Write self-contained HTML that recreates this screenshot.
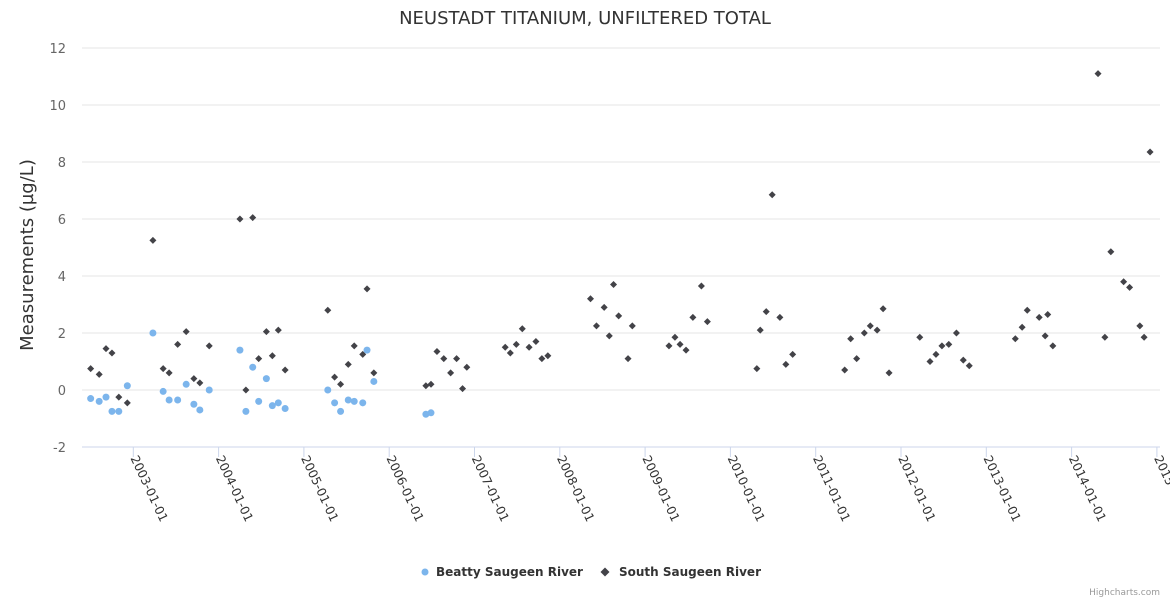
<!DOCTYPE html>
<html><head><meta charset="utf-8"><style>
body{margin:0;background:#fff;font-family:"DejaVu Sans","Liberation Sans",sans-serif;}
svg{display:block}
</style></head><body>
<svg id="chart" width="1170" height="600">
<text x="585" y="24" text-anchor="middle" font-size="18" fill="#333">NEUSTADT TITANIUM, UNFILTERED TOTAL</text>
<text transform="translate(33,255) rotate(-90)" text-anchor="middle" font-size="18" fill="#333">Measurements (µg/L)</text>
<g id="grid"></g><g id="xaxis"></g><g id="marks"></g>
<g>
<g><circle cx="425" cy="572" r="3.5" fill="#7cb5ec"/><text x="436" y="576" font-size="12" font-weight="bold" fill="#333">Beatty Saugeen River</text></g>
<g><path d="M605,567.5 L609.5,572 L605,576.5 L600.5,572Z" fill="#434348"/><text x="619" y="576" font-size="12" font-weight="bold" fill="#333">South Saugeen River</text></g>
</g>
<text x="1160" y="595" text-anchor="end" font-size="9" fill="#999">Highcharts.com</text>
</svg>
<script>
const yTicks=[-2,0,2,4,6,8,10,12];
const xTickLabels=["2003-01-01","2004-01-01","2005-01-01","2006-01-01","2007-01-01","2008-01-01","2009-01-01","2010-01-01","2011-01-01","2012-01-01","2013-01-01","2014-01-01","2015-01-01"];
const beattyX=[-0.50,-0.40,-0.32,-0.25,-0.17,-0.07,0.23,0.35,0.42,0.52,0.62,0.71,0.78,0.89,1.25,1.32,1.40,1.47,1.56,1.63,1.70,1.78,2.28,2.36,2.43,2.52,2.59,2.69,2.74,2.82,3.43,3.49];
const beattyY=[-0.3,-0.4,-0.25,-0.75,-0.75,0.15,2.0,-0.05,-0.35,-0.35,0.2,-0.5,-0.7,0,1.4,-0.75,0.8,-0.4,0.4,-0.55,-0.45,-0.65,0,-0.45,-0.75,-0.35,-0.4,-0.45,1.4,0.3,-0.85,-0.8];
const southX=[-0.50,-0.40,-0.32,-0.25,-0.17,-0.07,0.23,0.35,0.42,0.52,0.62,0.71,0.78,0.89,1.25,1.32,1.40,1.47,1.56,1.63,1.70,1.78,2.28,2.36,2.43,2.52,2.59,2.69,2.74,2.82,3.43,3.49,3.56,3.64,3.72,3.79,3.86,3.91,4.36,4.42,4.49,4.56,4.64,4.72,4.79,4.86,5.36,5.43,5.52,5.58,5.63,5.69,5.80,5.85,6.28,6.35,6.41,6.48,6.56,6.66,6.73,7.31,7.35,7.42,7.49,7.58,7.65,7.73,8.34,8.41,8.48,8.57,8.64,8.72,8.79,8.86,9.22,9.34,9.41,9.48,9.56,9.65,9.73,9.80,10.34,10.42,10.48,10.62,10.69,10.72,10.78,11.31,11.39,11.46,11.61,11.68,11.80,11.85,11.92];
const southY=[0.75,0.55,1.45,1.3,-0.25,-0.45,5.25,0.75,0.6,1.6,2.05,0.4,0.25,1.55,6.0,0,6.05,1.1,2.05,1.2,2.1,0.7,2.8,0.45,0.2,0.9,1.55,1.25,3.55,0.6,0.15,0.2,1.35,1.1,0.6,1.1,0.05,0.8,1.5,1.3,1.6,2.15,1.5,1.7,1.1,1.2,3.2,2.25,2.9,1.9,3.7,2.6,1.1,2.25,1.55,1.85,1.6,1.4,2.55,3.65,2.4,0.75,2.1,2.75,6.85,2.55,0.9,1.25,0.7,1.8,1.1,2.0,2.25,2.1,2.85,0.6,1.85,1.0,1.25,1.55,1.6,2.0,1.05,0.85,1.8,2.2,2.8,2.55,1.9,2.65,1.55,11.1,1.85,4.85,3.8,3.6,2.25,1.85,8.35];
const NS='http://www.w3.org/2000/svg';
const L=82,R=1160,T=48,B=447;
const yScale=v=>B-(v-(-2))/14*(B-T);
const xScale=v=>133.3+v*85.3;
function mk(tag,attrs,parent){const e=document.createElementNS(NS,tag);for(const k in attrs)e.setAttribute(k,attrs[k]);parent.appendChild(e);return e;}
const grid=document.getElementById('grid'),xa=document.getElementById('xaxis'),marks=document.getElementById('marks');
yTicks.forEach(v=>{
 const y=yScale(v);
 if(v!==-2){const ln=mk('line',{x1:L,x2:R,y1:y,y2:y,stroke:'#e6e6e6','stroke-width':1},grid);
 
 }
 const t=mk('text',{x:66,y:y+5,'text-anchor':'end','font-size':13,fill:'#666'},grid);
 t.textContent=v;
 
 
});
const ax=mk('line',{x1:L,x2:R,y1:B,y2:B,stroke:'#ccd6eb','stroke-width':1},xa);


xTickLabels.forEach((lab,i)=>{
 const x=xScale(i);
 mk('line',{x1:x,x2:x,y1:B,y2:B+10,stroke:'#ccd6eb'},xa);
 const t=mk('text',{transform:`translate(${x-3},${B+11}) rotate(65)`,'font-size':12.3,fill:'#333'},xa);
 t.textContent=lab;
 
 
});
beattyX.forEach((xv,i)=>{
 const c=mk('circle',{cx:xScale(xv),cy:yScale(beattyY[i]),r:3.5,fill:'#7cb5ec'},marks);
 
 
});
southX.forEach((xv,i)=>{
 const x=xScale(xv),y=yScale(southY[i]);
 const p=mk('path',{d:`M${x},${y-3.5}L${x+3.5},${y}L${x},${y+3.5}L${x-3.5},${y}Z`,fill:'#434348'},marks);
 
 
});
</script>
</body></html>
